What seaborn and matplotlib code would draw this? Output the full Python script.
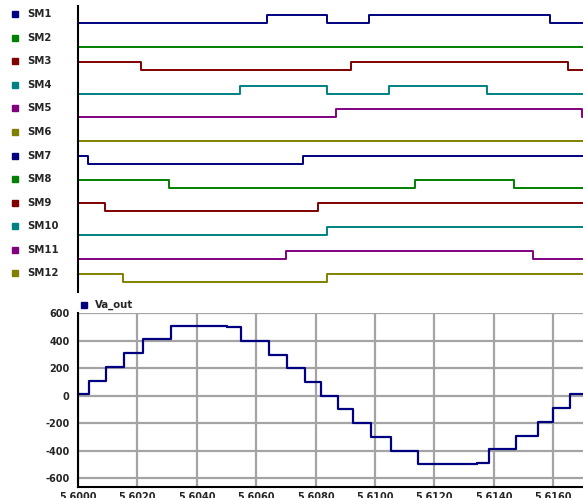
import matplotlib
matplotlib.use("Agg")
import matplotlib.pyplot as plt
import numpy as np
import pandas as pd
import seaborn as sns

# time window of the plot
t_start = 5.6000
t_end = 5.6170

# switching signals: initial state and times where the state toggles
sm_names = ["SM1", "SM2", "SM3", "SM4", "SM5", "SM6",
            "SM7", "SM8", "SM9", "SM10", "SM11", "SM12"]
sm_init = [0, 0, 1, 0, 0, 0, 1, 1, 1, 0, 0, 1]
sm1_switch = [5.60635, 5.60837, 5.60980, 5.61589]
sm2_switch = []
sm3_switch = [5.60213, 5.60920, 5.61651]
sm4_switch = [5.60544, 5.60837, 5.61046, 5.61376]
sm5_switch = [5.60869, 5.61697]
sm6_switch = []
sm7_switch = [5.60033, 5.60759]
sm8_switch = [5.60305, 5.61135, 5.61468]
sm9_switch = [5.60090, 5.60809]
sm10_switch = [5.60837]
sm11_switch = [5.60699, 5.61533]
sm12_switch = [5.60150, 5.60837]

# output voltage steps
va_t = [5.6000, 5.60037, 5.60094, 5.60155, 5.60220, 5.60313, 5.60404, 5.60501,
        5.60549, 5.60643, 5.60703, 5.60764, 5.60817, 5.60874, 5.60926, 5.60985,
        5.61052, 5.61143, 5.61233, 5.61342, 5.61382, 5.61474, 5.61547, 5.61598,
        5.61657, 5.6170]
va_v = [10, 110, 210, 310, 410, 510, 505, 498,
        400, 300, 200, 100, 0, -100, -200, -300,
        -400, -500, -495, -490, -390, -290, -190, -90,
        10, 10]

colors = ["#000080", "#008000", "#800000", "#008080", "#800080", "#808000"] * 2
x_ticks = [5.6000, 5.6020, 5.6040, 5.6060, 5.6080, 5.6100, 5.6120, 5.6140, 5.6160]
y_ticks = [600, 400, 200, 0, -200, -400, -600]

sns.set_style("white")
plt.rcParams["font.family"] = ["DejaVu Sans"]
plt.rcParams["font.weight"] = "bold"
plt.rcParams["axes.unicode_minus"] = False

fig = plt.figure(figsize=(5.83, 4.98), dpi=100)
ax_sw = fig.add_axes([0.1338, 0.4137, 0.8662, 0.5743])
ax_va = fig.add_axes([0.1338, 0.0221, 0.8662, 0.3494])

# build the stacked switching traces
switches = [sm1_switch, sm2_switch, sm3_switch, sm4_switch, sm5_switch, sm6_switch,
            sm7_switch, sm8_switch, sm9_switch, sm10_switch, sm11_switch, sm12_switch]
amp = 0.34
rows = []
for i, name in enumerate(sm_names):
    state = sm_init[i]
    ts = [t_start] + switches[i] + [t_end]
    vs = [state]
    for _ in switches[i]:
        state = 1 - state
        vs.append(state)
    vs.append(state)
    for t, v in zip(ts, vs):
        rows.append({"t": t, "y": -i + amp * v, "signal": name})
sw_df = pd.DataFrame(rows)

sns.lineplot(data=sw_df, x="t", y="y", hue="signal", hue_order=sm_names,
             palette=colors, estimator=None, sort=False, drawstyle="steps-post",
             legend=False, lw=1.4, ax=ax_sw)
ax_sw.set_xlim(t_start, t_end)
ax_sw.set_ylim(-11.42, 0.722)
ax_sw.set_xticks([])
ax_sw.set_yticks([])
ax_sw.set_xlabel("")
ax_sw.set_ylabel("")
for s in ["top", "right", "bottom"]:
    ax_sw.spines[s].set_visible(False)
ax_sw.spines["left"].set_color("black")
ax_sw.spines["left"].set_linewidth(1.5)

trans = ax_sw.get_yaxis_transform()
for i, name in enumerate(sm_names):
    ax_sw.plot([-0.124], [-i + 0.37], marker="s", ms=4.5, color=colors[i],
               transform=trans, clip_on=False)
    ax_sw.text(-0.101, -i + 0.37, name, transform=trans, fontsize=7.3,
               fontweight="bold", va="center", ha="left")

# output voltage
va_df = pd.DataFrame({"t": va_t, "Va_out": va_v})
sns.lineplot(data=va_df, x="t", y="Va_out", color="#000080", lw=1.6,
             drawstyle="steps-post", estimator=None, sort=False, ax=ax_va)
ax_va.set_xlim(t_start, t_end)
ax_va.set_ylim(-664, 602)
ax_va.set_xticks(x_ticks)
ax_va.set_xticklabels([f"{x:.4f}" for x in x_ticks])
ax_va.set_yticks(y_ticks)
ax_va.set_yticklabels([str(y) for y in y_ticks])
ax_va.set_xlabel("")
ax_va.set_ylabel("")
ax_va.grid(True, color="#a4a4a4", lw=1.6)
ax_va.set_axisbelow(True)
for s in ["top", "right"]:
    ax_va.spines[s].set_visible(False)
for s in ["left", "bottom"]:
    ax_va.spines[s].set_color("black")
    ax_va.spines[s].set_linewidth(1.5)
ax_va.tick_params(axis="y", direction="out", length=3, width=1, pad=3, labelsize=7)
ax_va.tick_params(axis="x", direction="inout", length=5, width=1, pad=1, labelsize=7)
for lab in ax_va.get_xticklabels() + ax_va.get_yticklabels():
    lab.set_fontweight("bold")

ax_va.plot([0.012], [1.046], marker="s", ms=4.5, color="#000080",
           transform=ax_va.transAxes, clip_on=False)
ax_va.text(0.034, 1.046, "Va_out", transform=ax_va.transAxes, fontsize=7.3,
           fontweight="bold", va="center", ha="left")

fig.savefig("out.png", dpi=100)
